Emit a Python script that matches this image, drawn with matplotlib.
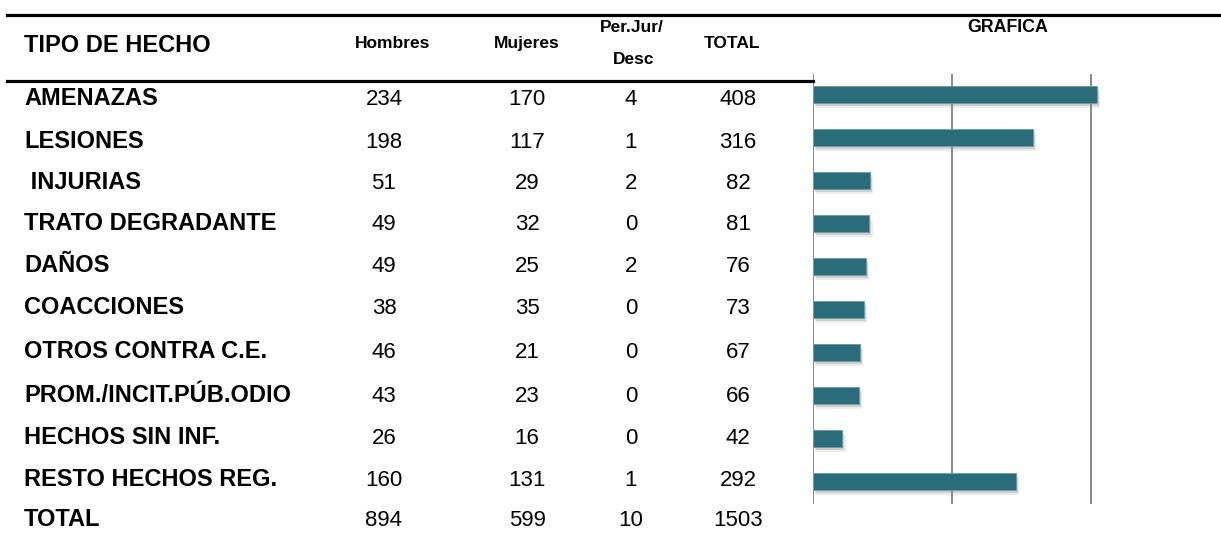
import matplotlib.pyplot as plt
import matplotlib.patheffects as pe
from matplotlib.lines import Line2D

plt.rcParams['font.family'] = ['Liberation Sans', 'DejaVu Sans']

# --- Data ---
tipos = ["AMENAZAS", "LESIONES", " INJURIAS", "TRATO DEGRADANTE", "DAÑOS",
         "COACCIONES", "OTROS CONTRA C.E.", "PROM./INCIT.PÚB.ODIO",
         "HECHOS SIN INF.", "RESTO HECHOS REG."]
hombres = [234, 198, 51, 49, 49, 38, 46, 43, 26, 160]
mujeres = [170, 117, 29, 32, 25, 35, 21, 23, 16, 131]
perjur = [4, 1, 2, 0, 2, 0, 0, 0, 0, 1]
total = [408, 316, 82, 81, 76, 73, 67, 66, 42, 292]
fila_total = ["TOTAL", 894, 599, 10, 1503]

W, H = 1221, 545
fig = plt.figure(figsize=(W / 100, H / 100), dpi=100)


def fx(px):
    return px / W


def fy(py):
    return 1 - py / H


# --- Horizontal rules ---
fig.add_artist(Line2D([fx(7), fx(1221)], [fy(14.5), fy(14.5)], color="black", lw=2.3))
fig.add_artist(Line2D([fx(7), fx(813)], [fy(80.5), fy(80.5)], color="black", lw=2.3))

# --- Header ---
fig.text(fx(24), fy(52), "TIPO DE HECHO", fontsize=17, fontweight="bold", va="baseline")
fig.text(fx(393), fy(43), "Hombres", fontsize=12.5, fontweight="bold", ha="center", va="center")
fig.text(fx(527), fy(43), "Mujeres", fontsize=12.5, fontweight="bold", ha="center", va="center")
fig.text(fx(632), fy(27), "Per.Jur/", fontsize=12.5, fontweight="bold", ha="center", va="center")
fig.text(fx(634), fy(59), "Desc", fontsize=12.5, fontweight="bold", ha="center", va="center")
fig.text(fx(732), fy(43), "TOTAL", fontsize=12.5, fontweight="bold", ha="center", va="center")
fig.text(fx(1008), fy(27), "GRAFICA", fontsize=12.8, fontweight="bold", ha="center", va="center")

# --- Table rows (baseline of each row, in pixels from top) ---
col_x = [384, 527, 631, 738]
row_base = [105, 147.5, 189, 230.5, 272.5, 314, 358.5, 401.5, 443.5, 485.5, 526.5]
for i, t in enumerate(tipos):
    y = fy(row_base[i])
    fig.text(fx(24), y, t, fontsize=17, fontweight="bold", va="baseline")
    for cx, v in zip(col_x, [hombres[i], mujeres[i], perjur[i], total[i]]):
        fig.text(fx(cx), y, str(v), fontsize=16, ha="center", va="baseline")

y = fy(row_base[-1])
fig.text(fx(24), y, fila_total[0], fontsize=17, fontweight="bold", va="baseline")
for cx, v in zip(col_x, fila_total[1:]):
    fig.text(fx(cx), y, str(v), fontsize=16, ha="center", va="baseline")

# --- Bar chart ---
ax = fig.add_axes([fx(813), fy(504), fx(1230) - fx(813), (504 - 74) / H])
ax.set_xlim(0, 600)
ax.set_ylim(9.523, -0.477)
for gx in [0, 200, 400]:
    ax.axvline(gx, color="#7f7f7f", lw=1.3, zorder=1)
bars = ax.barh(range(len(total)), total, height=0.4, color="#2b6c7a",
               edgecolor="#7aa3ac", linewidth=0.6, zorder=3)
for b in bars:
    b.set_path_effects([
        pe.withSimplePatchShadow(offset=(2.5, -3.5), shadow_rgbFace="#999999", alpha=0.18),
        pe.withSimplePatchShadow(offset=(1.5, -2), shadow_rgbFace="#777777", alpha=0.25),
        pe.Normal()])
ax.axis("off")

fig.savefig("out.png", dpi=100)
